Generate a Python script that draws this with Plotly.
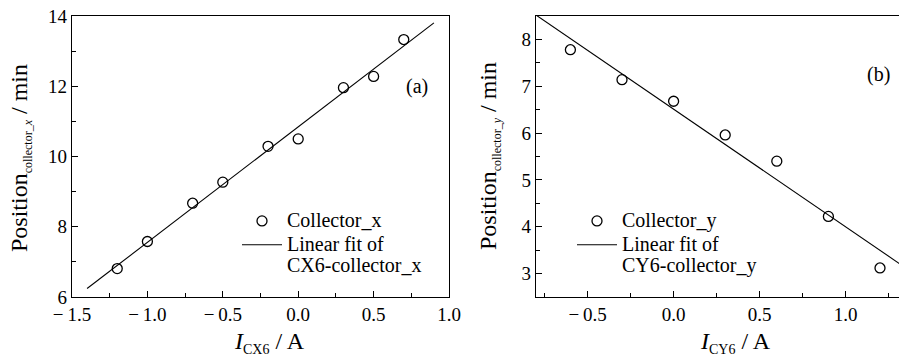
import numpy as np
import plotly.graph_objects as go

# Panel (a)
ax_current = [-1.2, -1.0, -0.7, -0.5, -0.2, 0.0, 0.3, 0.5, 0.7]
ax_position = [6.81, 7.58, 8.67, 9.27, 10.29, 10.50, 11.96, 12.28, 13.33]
ax_fit_span = [-1.4, 0.9]
ax_xticks = [-1.5, -1.0, -0.5, 0.0, 0.5, 1.0]
ax_xticklabels = ["\u2212\u20091.5", "\u2212\u20091.0", "\u2212\u20090.5", "0.0", "0.5", "1.0"]

# Panel (b)
by_current = [-0.6, -0.3, 0.0, 0.3, 0.6, 0.9, 1.2]
by_position = [7.78, 7.14, 6.68, 5.96, 5.40, 4.22, 3.12]
by_fit_span = [-0.8, 1.45]
by_xticks = [-0.5, 0.0, 0.5, 1.0]
by_xticklabels = ["\u2212\u20090.5", "0.0", "0.5", "1.0"]

FONT = "'Liberation Serif', 'Times New Roman', Times, serif"

# page body has an 8px margin: size the figure to fill the rest of the window
OFF = 8
W, H = 907 - OFF, 356 - OFF

def px(x):
    return (x - OFF) / W

def py(y):
    return 1 - (y - OFF) / H

ka, ba = np.polyfit(ax_current, ax_position, 1)
kb, bb = np.polyfit(by_current, by_position, 1)
fxa = np.array(ax_fit_span)
fxb = np.array(by_fit_span)

def leg(s):
    return "<span style='font-size:20px'>" + s + "</span>"

fig = go.Figure()
fig.add_trace(go.Scatter(x=ax_current, y=ax_position, mode="markers", name=leg("Collector_x"),
                         marker=dict(symbol="circle-open", size=10, color="black", line=dict(width=1.3, color="black")),
                         xaxis="x", yaxis="y", legend="legend"))
fig.add_trace(go.Scatter(x=fxa, y=ka * fxa + ba, mode="lines",
                         name=leg("Linear fit of") + "<br>" + leg("CX6-collector_x"),
                         line=dict(color="black", width=1.1), xaxis="x", yaxis="y", legend="legend"))
fig.add_trace(go.Scatter(x=by_current, y=by_position, mode="markers", name=leg("Collector_y"),
                         marker=dict(symbol="circle-open", size=10, color="black", line=dict(width=1.3, color="black")),
                         xaxis="x2", yaxis="y2", legend="legend2"))
fig.add_trace(go.Scatter(x=fxb, y=kb * fxb + bb, mode="lines",
                         name=leg("Linear fit of") + "<br>" + leg("CY6-collector_y"),
                         line=dict(color="black", width=1.1), xaxis="x2", yaxis="y2", legend="legend2"))

axis_common = dict(showline=True, linecolor="black", linewidth=1.3, ticks="inside", ticklen=6,
                   tickwidth=1.2, tickcolor="black", showgrid=False, zeroline=False, automargin=False,
                   ticklabeloverflow="allow",
                   tickfont=dict(family=FONT, size=19, color="black"))
minor_common = dict(ticklen=4, ticks="inside", tickcolor="black", tickwidth=1.1)

fig.update_layout(
    width=W, height=H,
    margin=dict(l=0, r=0, t=0, b=0, autoexpand=False),
    plot_bgcolor="white", paper_bgcolor="white",
    font=dict(family=FONT, color="black"),
    xaxis=dict(domain=[px(72), px(449)], range=[-1.5, 1.0], tickvals=ax_xticks, ticktext=ax_xticklabels,
               mirror=True, minor=dict(dtick=0.25, tick0=0, **minor_common), anchor="y",
               **axis_common),
    yaxis=dict(domain=[py(297), py(16)], range=[6, 14], dtick=2, tick0=0,
               mirror=True, minor=dict(dtick=1, tick0=0, **minor_common), anchor="x",
               **axis_common),
    xaxis2=dict(domain=[px(536), 1.0], range=[-0.8, 1.357], tickvals=by_xticks, ticktext=by_xticklabels,
                mirror=True, minor=dict(dtick=0.25, tick0=0, **minor_common), anchor="y2",
                **axis_common),
    yaxis2=dict(domain=[py(297), py(16)], range=[2.5, 8.5], dtick=1, tick0=0,
                mirror=False, minor=dict(dtick=0.5, tick0=0, **minor_common), anchor="x2",
                **axis_common),
    legend=dict(x=px(237), y=py(204), xanchor="left", yanchor="top", bgcolor="rgba(0,0,0,0)",
                font=dict(family=FONT, size=16, color="black"), valign="top", tracegroupgap=0,
                itemwidth=40),
    legend2=dict(x=px(572), y=py(204), xanchor="left", yanchor="top", bgcolor="rgba(0,0,0,0)",
                 font=dict(family=FONT, size=16, color="black"), valign="top", tracegroupgap=0,
                 itemwidth=40),
    showlegend=True,
)

annotations = [
    dict(text="(a)", x=417, y=86, size=20),
    dict(text="(b)", x=878, y=74, size=20),
    dict(text="<i>I</i><sub><span style='font-size:14px'>CX6</span></sub> / A", x=269, y=342, size=24),
    dict(text="<i>I</i><sub><span style='font-size:14px'>CY6</span></sub> / A", x=735, y=342, size=24),
    dict(text="Position<sub><span style='font-size:12px'>collector_<i>x</i></span></sub> / min",
         x=20, y=158, size=24, angle=-90),
    dict(text="Position<sub><span style='font-size:12px'>collector_<i>y</i></span></sub> / min",
         x=489, y=156, size=24, angle=-90),
]
for a in annotations:
    fig.add_annotation(text=a["text"], x=px(a["x"]), y=py(a["y"]), xref="paper", yref="paper",
                       xanchor="center", yanchor="middle", showarrow=False,
                       textangle=a.get("angle", 0),
                       font=dict(family=FONT, color="black", size=a["size"]))

fig.write_html("out.html")
